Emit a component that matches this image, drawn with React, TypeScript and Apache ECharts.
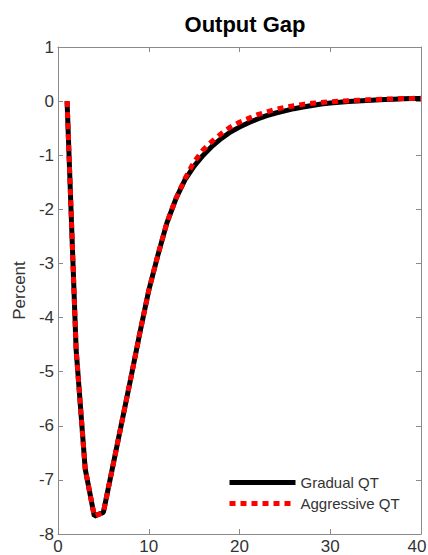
import React, { useEffect, useRef } from "react";
import * as echarts from "echarts";

const periods: number[] = Array.from({ length: 40 }, (_, i) => i + 1);

const gradualQT: number[] = [
  0, -4.6, -6.8, -7.67, -7.6, -6.78, -5.96, -5.14, -4.3, -3.5,
  -2.85, -2.25, -1.8, -1.45, -1.2, -1.0, -0.83, -0.69, -0.57, -0.48,
  -0.4, -0.33, -0.27, -0.22, -0.18, -0.14, -0.11, -0.08, -0.055, -0.035,
  -0.02, -0.008, 0.002, 0.012, 0.022, 0.03, 0.036, 0.042, 0.047, 0.05,
];

const aggressiveQT: number[] = [
  0, -4.6, -6.8, -7.67, -7.6, -6.78, -5.96, -5.14, -4.3, -3.5,
  -2.85, -2.25, -1.8, -1.43, -1.12, -0.9, -0.74, -0.6, -0.48, -0.39,
  -0.32, -0.25, -0.2, -0.15, -0.115, -0.085, -0.06, -0.04, -0.025, -0.012,
  -0.002, 0.008, 0.016, 0.023, 0.03, 0.036, 0.041, 0.046, 0.05, 0.053,
];

const seriesNames = ["Gradual QT", "Aggressive QT"];
const titleText = "Output Gap";
const yAxisName = "Percent";
const xMax = 40;

const FONT = "'Liberation Sans', Arial, sans-serif";
const AXIS_COLOR = "#8a8a8a";
const LABEL_COLOR = "#333333";

export default function App() {
  const ref = useRef<HTMLDivElement>(null);

  useEffect(() => {
    if (!ref.current) return;
    const chart = echarts.init(ref.current, undefined, { renderer: "svg" });
    const tick = { show: true, inside: true, length: 5, lineStyle: { color: AXIS_COLOR } };
    const axisLine = { show: true, onZero: false, lineStyle: { color: AXIS_COLOR, width: 1 } };
    chart.setOption({
      animation: false,
      backgroundColor: "#ffffff",
      textStyle: { fontFamily: FONT },
      title: {
        text: titleText,
        left: 240,
        textAlign: "center",
        top: 8,
        textStyle: { fontFamily: FONT, fontSize: 22, fontWeight: "bold", color: "#000" },
      },
      grid: {
        left: 58,
        right: 7,
        top: 47,
        bottom: 21,
        containLabel: false,
        outerBoundsMode: "none",
      },
      legend: {
        orient: "vertical",
        left: 227,
        top: 475,
        padding: 0,
        itemWidth: 66,
        itemHeight: 15,
        itemGap: 6,
        itemStyle: { opacity: 0 },
        lineStyle: { width: 5 },
        textStyle: { fontFamily: FONT, fontSize: 15, color: LABEL_COLOR },
        data: seriesNames,
      },
      xAxis: [
        {
          type: "value",
          position: "bottom",
          min: 0,
          max: xMax,
          interval: 10,
          axisLine,
          axisTick: tick,
          splitLine: { show: false },
          axisLabel: {
            fontFamily: FONT,
            fontSize: 17,
            color: LABEL_COLOR,
            margin: 4,
            formatter: (v: number) => (v === xMax ? `{last|${v}}` : `${v}`),
            rich: {
              last: {
                fontFamily: FONT,
                fontSize: 17,
                color: LABEL_COLOR,
                padding: [0, 8, 0, 0],
              },
            },
          },
        },
        {
          type: "value",
          position: "top",
          min: 0,
          max: xMax,
          interval: 10,
          axisLine,
          axisTick: tick,
          splitLine: { show: false },
          axisLabel: { show: false },
        },
      ],
      yAxis: [
        {
          type: "value",
          position: "left",
          min: -8,
          max: 1,
          interval: 1,
          name: yAxisName,
          nameLocation: "middle",
          nameGap: 25,
          nameTextStyle: { fontFamily: FONT, fontSize: 17, color: LABEL_COLOR },
          axisLine,
          axisTick: tick,
          splitLine: { show: false },
          axisLabel: { fontFamily: FONT, fontSize: 17, color: LABEL_COLOR, margin: 4 },
        },
        {
          type: "value",
          position: "right",
          min: -8,
          max: 1,
          interval: 1,
          axisLine,
          axisTick: tick,
          splitLine: { show: false },
          axisLabel: { show: false },
        },
      ],
      series: [
        {
          name: seriesNames[0],
          type: "line",
          xAxisIndex: 0,
          yAxisIndex: 0,
          data: periods.map((p, i) => [p, gradualQT[i]]),
          symbol: "none",
          lineStyle: { color: "#000000", width: 5, type: "solid" },
          itemStyle: { color: "#000000" },
        },
        {
          name: seriesNames[1],
          type: "line",
          xAxisIndex: 0,
          yAxisIndex: 0,
          data: periods.map((p, i) => [p, aggressiveQT[i]]),
          symbol: "none",
          lineStyle: { color: "#ff0000", width: 5, type: [6, 5] },
          itemStyle: { color: "#ff0000" },
        },
      ],
    });
    return () => chart.dispose();
  }, []);

  return (
    <div
      ref={ref}
      style={{ position: "absolute", left: 0, top: 0, width: 428, height: 555 }}
    />
  );
}
